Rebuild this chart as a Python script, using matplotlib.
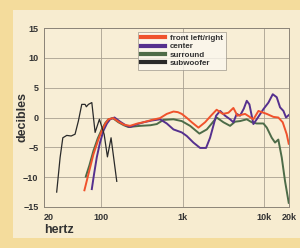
"""Speaker frequency response chart: front, center, surround and subwoofer."""

import matplotlib.pyplot as plt
from matplotlib.patches import Rectangle
from matplotlib.ticker import FixedLocator, NullLocator

# frequency (Hz) and level (dB)
front_hz = [62.5, 70, 80.5, 92, 102, 113, 123, 141, 163, 190, 226, 280, 330, 420, 527,
            637, 770, 870, 973, 1130, 1290, 1556, 1876, 2250, 2600, 3090, 3624, 4170, 4670,
            5800, 7330, 8450, 10700, 12900, 14800, 16750, 18750, 19850]
front_db = [-12.2, -9.5, -6.2, -3.8, -2.2, -1.0, -0.3, -0.1, -0.7, -1.2, -1.4, -1.0, -0.8,
            -0.4, -0.1, 0.6, 1.0, 0.9, 0.6, -0.1, -0.8, -1.7, -0.8, 0.4, 1.3, 0.6, 0.8, 1.6,
            0.3, 0.6, -0.3, 1.1, 0.6, 0.1, 0.0, -0.8, -2.8, -4.4]

center_hz = [77, 82, 88.5, 97, 107, 118, 129, 146, 171, 200, 226, 280, 330, 420, 527, 637,
             770, 973, 1120, 1350, 1630, 1930, 2160, 2560, 2870, 3300, 3800, 4170, 4580,
             5030, 5600, 6080, 6550, 7330, 8050, 9720, 11200, 12650, 14150, 15550, 17100,
             18400, 19850]
center_db = [-12.0, -9.5, -6.7, -4.2, -2.2, -1.0, -0.3, 0.0, -0.7, -1.3, -1.6, -1.1, -0.8,
             -0.5, -0.3, -1.0, -2.0, -2.5, -3.1, -4.2, -5.1, -5.1, -3.4, 0.3, 1.1, 0.3,
             -0.3, -0.8, 0.6, 0.3, 1.5, 2.8, 2.2, -1.1, -0.3, 1.4, 2.5, 3.9, 3.4, 1.7, 1.1,
             0.0, 0.4]

surround_hz = [65, 72, 80.5, 91, 102, 113, 123, 139, 163, 190, 216, 300, 400, 481, 580,
               770, 973, 1230, 1600, 1970, 2300, 2600, 3150, 3800, 4370, 5030, 6080, 7000,
               8050, 9720, 10700, 12300, 13500, 14800, 16300, 17900, 19850]
surround_db = [-9.9, -8.0, -5.6, -3.5, -2.0, -0.9, -0.3, -0.1, -0.8, -1.3, -1.6, -1.4, -1.3,
               -1.1, -0.4, -0.3, -0.6, -1.4, -2.7, -2.0, -0.9, 0.0, -0.8, -1.4, -0.7, -0.6,
               -0.3, -0.8, -1.0, -1.0, -1.7, -3.4, -4.2, -3.7, -6.7, -10.7, -14.3]

sub_hz = [28.6, 31.5, 34, 38, 43, 48, 52.7, 58, 63.7, 66, 70, 77, 84.5, 95.4, 109, 119.6,
          132.5, 155.6]
sub_db = [-12.5, -6.7, -3.4, -3.0, -3.1, -2.8, -0.6, 2.2, 2.2, 1.8, 2.2, 2.5, -2.5, -0.3,
          -2.8, -6.6, -3.4, -10.7]

x_ticks = [20, 100, 1000, 10000, 20000]
x_tick_labels = ["20", "100", "1k", "10k", "20k"]
y_ticks = [-15, -10, -5, 0, 5, 10, 15]

TEXT = "#333333"
GRID = "#a9a090"

plt.rcParams["font.family"] = ["Liberation Sans", "DejaVu Sans"]

fig = plt.figure(figsize=(3.0, 2.48), dpi=100, facecolor="#f4dc9c")
fig.patches.append(Rectangle((13 / 300, 10 / 248), 1.0, 228 / 248, transform=fig.transFigure,
                             facecolor="#f7ecd0", edgecolor="none", zorder=-5))

ax = fig.add_axes([44 / 300, 41 / 248, 245 / 300, 179 / 248])
ax.set_zorder(2)
ax.set_facecolor("#f8eed6")

ax.plot(front_hz, front_db, color="#f0522c", lw=1.4, label="front left/right", zorder=4)
ax.plot(center_hz, center_db, color="#55308e", lw=1.4, label="center", zorder=3)
ax.plot(surround_hz, surround_db, color="#4d6b48", lw=1.4, label="surround", zorder=2)
ax.plot(sub_hz, sub_db, color="#2a2a2a", lw=0.9, label="subwoofer", zorder=5)

ax.set_xscale("log")
ax.set_xlim(20, 20000)
ax.set_ylim(-15, 15)
ax.xaxis.set_major_locator(FixedLocator(x_ticks))
ax.xaxis.set_minor_locator(NullLocator())
ax.set_xticklabels(x_tick_labels)
ax.set_yticks(y_ticks)
ax.set_yticklabels([str(v).replace("-", "\u2212") for v in y_ticks])
ax.tick_params(length=0, labelsize=6.5, labelcolor=TEXT, pad=4)
for lab in ax.get_xticklabels() + ax.get_yticklabels():
    lab.set_fontweight("bold")
ax.get_xticklabels()[0].set_horizontalalignment("left")

ax.grid(True, color=GRID, lw=0.6)
for spine in ax.spines.values():
    spine.set_color("#8c8478")
    spine.set_linewidth(0.7)

fig.text(22 / 300, 1 - 117 / 248, "decibles", fontsize=9, fontweight="bold", color=TEXT,
         rotation=90, ha="center", va="center")
fig.text(44 / 300, 1 - 230 / 248, "hertz", fontsize=9, fontweight="bold", color=TEXT,
         ha="left", va="center")

leg = ax.legend(loc="upper left", bbox_to_anchor=(94 / 245, 1 - 4 / 179), fontsize=5.8,
                handlelength=3.0, handleheight=0.5, labelspacing=0.15, borderpad=0.35,
                handletextpad=0.6, frameon=True, fancybox=False, borderaxespad=0)
leg.get_frame().set_facecolor("#fbf7ee")
leg.get_frame().set_edgecolor("#9a9488")
leg.get_frame().set_linewidth(0.6)
for line in leg.get_lines():
    line.set_linewidth(3)
for txt in leg.get_texts():
    txt.set_fontweight("bold")
    txt.set_color(TEXT)

fig.savefig("out.png", dpi=100, facecolor=fig.get_facecolor())
